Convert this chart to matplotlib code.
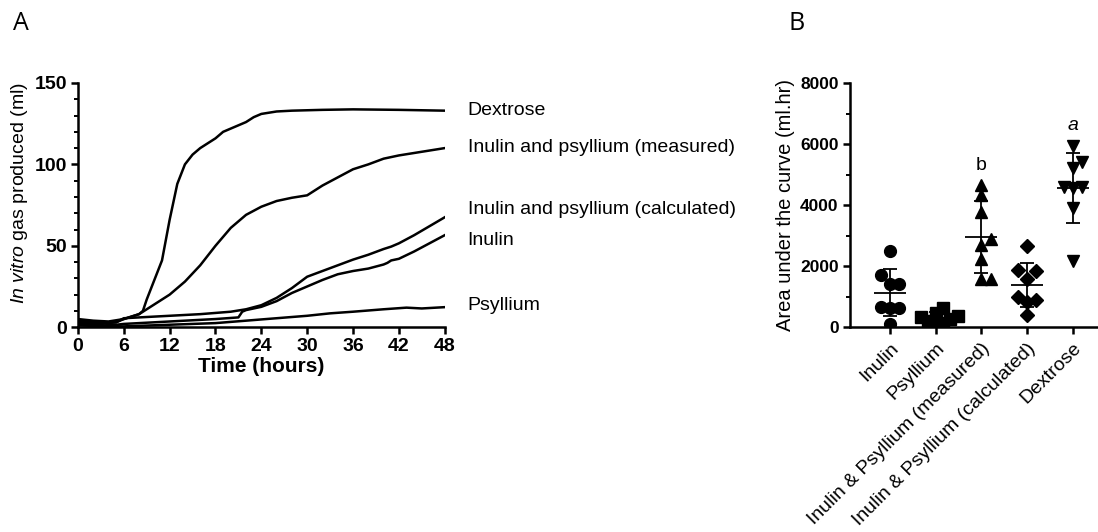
import numpy as np
import matplotlib
matplotlib.use("Agg")
import matplotlib.pyplot as plt
from matplotlib.ticker import MultipleLocator

plt.rcParams['font.family'] = ['Liberation Sans', 'DejaVu Sans']
plt.rcParams['mathtext.fontset'] = 'custom'
plt.rcParams['mathtext.rm'] = 'Liberation Sans'
plt.rcParams['mathtext.it'] = 'Liberation Sans:italic'

# panel A: gas production curves
t_dex = [0, 2, 4, 6, 7, 8, 8.5, 9, 10, 11, 12, 13, 14, 15, 16, 17, 18, 19, 20, 21, 22, 23, 24, 26, 28, 32, 36, 42, 48]
v_dex = [5, 4, 3.5, 5, 6.5, 8, 10, 17, 29, 41, 66, 88, 100, 106, 110, 113, 116, 120, 122, 124, 126, 129, 131, 132.5, 133, 133.5, 133.8, 133.5, 133]
t_meas = [0, 3, 5, 6, 8, 10, 12, 14, 16, 18, 20, 22, 24, 26, 28, 30, 32, 34, 36, 38, 40, 42, 44, 46, 48]
v_meas = [3, 2, 3, 5, 8, 14, 20, 28, 38, 50, 61, 69, 74, 77.5, 79.5, 81, 87, 92, 97, 100, 103.5, 105.5, 107, 108.5, 110]
t_calc = [0, 3, 5, 6, 8, 12, 16, 20, 22, 24, 26, 28, 30, 32, 34, 36, 38, 40, 41, 42, 44, 46, 48]
v_calc = [4, 2.5, 3, 5.5, 6, 7, 8, 9.5, 11, 13.5, 18, 24, 31, 34.5, 38, 41.5, 44.5, 48, 49.5, 51.5, 56.5, 62, 67.5]
t_inu = [0, 3, 5, 6, 10, 14, 18, 21, 21.5, 22, 24, 26, 28, 30, 32, 34, 36, 38, 40, 40.5, 41, 42, 44, 46, 48]
v_inu = [2, 1, 1.5, 2, 3, 4, 5, 6, 9.5, 10.5, 12.5, 16, 21, 25, 29, 32.5, 34.5, 36, 38.5, 39.5, 41, 42, 46.5, 51.5, 56.5]
t_psy = [0, 6, 12, 18, 22, 26, 30, 33, 36, 40, 43, 45, 48]
v_psy = [1, 0.5, 1.5, 2.5, 4, 5.5, 7, 8.5, 9.5, 11, 12, 11.5, 12.3]
curve_labels = ['Dextrose', 'Inulin and psyllium (measured)', 'Inulin and psyllium (calculated)', 'Inulin', 'Psyllium']
label_y = [133, 110.5, 72.5, 53, 13.5]

# panel B: area under the curve
groups = ['Inulin', 'Psyllium', 'Inulin & Psyllium (measured)', 'Inulin & Psyllium (calculated)', 'Dextrose']
auc_inulin = [2480, 1700, 1430, 1400, 640, 650, 620, 110]
auc_psyllium = [620, 450, 380, 320, 260, 200, 150, 100]
auc_measured = [4650, 4320, 3770, 2900, 2680, 2240, 1590, 1580]
auc_calculated = [2650, 1880, 1850, 1580, 980, 900, 830, 400]
auc_dextrose = [5950, 5400, 5230, 4600, 4580, 4560, 3900, 2180]
markers = ['o', 's', '^', 'D', 'v']
sizes = [8.5, 8.5, 8.5, 7, 8.5]
sig = ['', '', 'b', '', 'a']

fig = plt.figure(figsize=(10.98, 5.32), dpi=100)

ax = fig.add_axes([0.071, 0.385, 0.334, 0.459])
for tt, vv in [(t_dex, v_dex), (t_meas, v_meas), (t_calc, v_calc), (t_inu, v_inu), (t_psy, v_psy)]:
    ax.plot(tt, vv, color='black', lw=1.8)
ax.set_xlim(0, 48)
ax.set_ylim(0, 150)
ax.set_xticks(np.arange(0, 49, 6))
ax.set_yticks([0, 50, 100, 150])
ax.yaxis.set_minor_locator(MultipleLocator(10))
for s in ['top', 'right']:
    ax.spines[s].set_visible(False)
for s in ['left', 'bottom']:
    ax.spines[s].set_linewidth(1.8)
ax.tick_params(width=1.8, length=5, labelsize=14, pad=3)
ax.tick_params(which='minor', width=1.4, length=3)
for lab in ax.get_xticklabels() + ax.get_yticklabels():
    lab.set_fontweight('bold')
ax.set_xlabel('Time (hours)', fontsize=15, fontweight='bold', labelpad=1)
ax.set_ylabel(r'$\it{In\ vitro}$ gas produced (ml)', fontsize=14)
ax.yaxis.set_label_coords(-0.132, 0.55)
for name, yy in zip(curve_labels, label_y):
    ax.text(51, yy, name, fontsize=14, va='center', ha='left', clip_on=False)

fig.text(0.012, 0.955, 'A', fontsize=18, va='center', family='Open Sans')
fig.text(0.718, 0.955, 'B', fontsize=18, va='center', family='Open Sans')


def swarm(vals, dy, dx):
    # simple beeswarm: place each point at the smallest free offset
    placed = []
    offs = np.zeros(len(vals))
    order = np.argsort(vals)
    cand = [0]
    for k in range(1, 6):
        cand += [k * dx, -k * dx]
    for i in order:
        for c in cand:
            ok = True
            for (pv, po) in placed:
                if abs(pv - vals[i]) < dy and abs(po - c) < dx * 0.95:
                    ok = False
                    break
            if ok:
                offs[i] = c
                placed.append((vals[i], c))
                break
    return offs


bx = fig.add_axes([0.774, 0.385, 0.225, 0.459])
data = [auc_inulin, auc_psyllium, auc_measured, auc_calculated, auc_dextrose]
for i, vals in enumerate(data):
    vals = np.array(vals, dtype=float)
    offs = swarm(vals, 330, 0.2 if i != 1 else 0.16)
    bx.plot(i + offs, vals, ls='none', marker=markers[i], ms=sizes[i], color='black', mec='black')
    m = vals.mean()
    sd = vals.std(ddof=1)
    bx.hlines(m, i - 0.35, i + 0.35, color='black', lw=1.3)
    bx.errorbar(i, m, yerr=sd, color='black', lw=1.3, capsize=5, capthick=1.3)
    if sig[i]:
        bx.text(i, vals.max() + 650, sig[i], ha='center', va='center', fontsize=14,
                style='italic' if sig[i] == 'a' else 'normal')
bx.set_xlim(-0.87, 4.52)
bx.set_ylim(0, 8000)
bx.set_yticks([0, 2000, 4000, 6000, 8000])
bx.yaxis.set_minor_locator(MultipleLocator(1000))
bx.set_xticks(range(len(groups)))
bx.set_xticklabels(groups, rotation=45, ha='right', rotation_mode='anchor', fontsize=14)
for s in ['top', 'right']:
    bx.spines[s].set_visible(False)
for s in ['left', 'bottom']:
    bx.spines[s].set_linewidth(1.8)
bx.tick_params(width=1.8, length=5, labelsize=12.5, pad=3)
bx.tick_params(axis='x', labelsize=14, pad=4)
bx.tick_params(which='minor', width=1.4, length=3)
for lab in bx.get_yticklabels():
    lab.set_fontweight('bold')
bx.set_ylabel('Area under the curve (ml.hr)', fontsize=14.5, labelpad=4)

fig.savefig('out.png', dpi=100)
